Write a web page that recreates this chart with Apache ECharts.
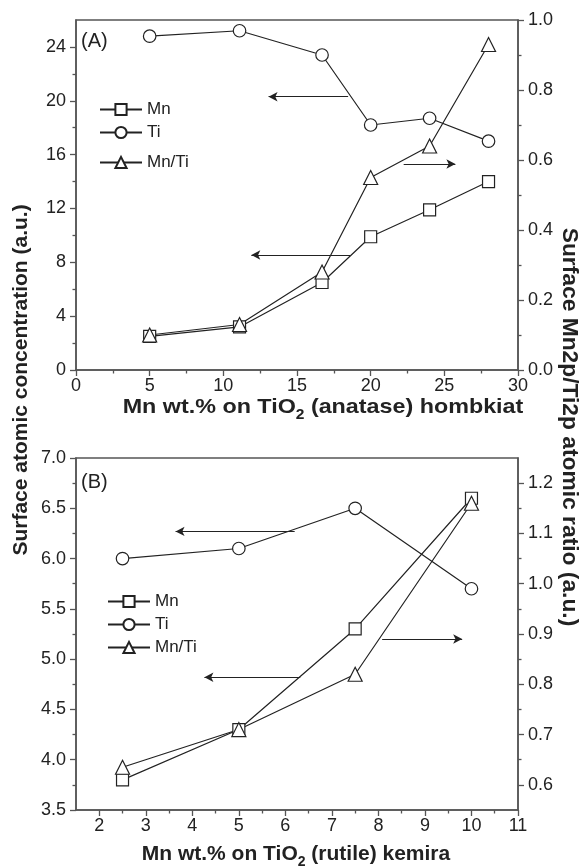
<!DOCTYPE html>
<html><head><meta charset="utf-8">
<script src="https://cdn.jsdelivr.net/npm/echarts@6/dist/echarts.min.js"></script>
<style>html,body{margin:0;padding:0;background:#fff}#c{width:582px;height:867px}</style>
</head><body><div id="c"></div>
<script>
// Panel A: Mn loading on TiO2 anatase (hombkiat)
const loadA = [5, 11.1, 16.7, 20, 24, 28];
const mnA = [2.5, 3.2, 6.5, 9.9, 11.9, 14.0];
const tiA = [24.8, 25.2, 23.4, 18.2, 18.7, 17.0];
const ratioA = [0.10, 0.13, 0.28, 0.55, 0.64, 0.93];
// Panel B: Mn loading on TiO2 rutile (kemira)
const loadB = [2.5, 5, 7.5, 10];
const mnB = [3.8, 4.3, 5.3, 6.6];
const tiB = [6.0, 6.1, 6.5, 5.7];
const ratioB = [0.635, 0.71, 0.82, 1.16];
// Arrows pointing at the axis each curve belongs to: [xFrom, xTo, y on the left axis]
const arrowsA = [[18.47, 13.07, 20.3], [18.6, 11.9, 8.54], [22.24, 25.75, 15.3]];
const arrowsB = [[6.2, 3.64, 6.27], [8.08, 9.8, 5.2], [6.32, 4.26, 4.82]];
// Tick values (major ticks are labelled, minor ones are not)
const xTicksA = [0, 5, 10, 15, 20, 25, 30];
const xMinorA = [2.5, 7.5, 12.5, 17.5, 22.5, 27.5];
const concTicksA = [0, 4, 8, 12, 16, 20, 24];
const concMinorA = [2, 6, 10, 14, 18, 22];
const ratioTicksA = [0.0, 0.2, 0.4, 0.6, 0.8, 1.0];
const ratioMinorA = [0.1, 0.3, 0.5, 0.7, 0.9];
const xTicksB = [2, 3, 4, 5, 6, 7, 8, 9, 10, 11];
const xMinorB = [2.5, 3.5, 4.5, 5.5, 6.5, 7.5, 8.5, 9.5, 10.5];
const concTicksB = [3.5, 4.0, 4.5, 5.0, 5.5, 6.0, 6.5, 7.0];
const concMinorB = [3.75, 4.25, 4.75, 5.25, 5.75, 6.25, 6.75];
const ratioTicksB = [0.6, 0.7, 0.8, 0.9, 1.0, 1.1, 1.2];
const ratioMinorB = [0.65, 0.75, 0.85, 0.95, 1.05, 1.15];

const INK = '#222';
const AXIS = '#555';
const FONT = 'Liberation Sans, Arial, sans-serif';
const LABEL = { color: INK, fontFamily: FONT, fontSize: 18 };

const pairs = (xs, ys) => xs.map((x, i) => [x, ys[i]]);

// Labelled axis with its major ticks
function mainAxis(grid, position, min, max, ticks, digits, margin) {
  return {
    type: 'value', gridIndex: grid, position, min, max,
    axisLine: { show: true, onZero: false, lineStyle: { color: AXIS, width: 1.5 } },
    axisTick: { show: true, inside: false, length: 6, customValues: ticks, lineStyle: { color: AXIS, width: 1.3 } },
    minorTick: { show: false },
    splitLine: { show: false },
    axisLabel: Object.assign({ margin, customValues: ticks, formatter: v => v.toFixed(digits) }, LABEL)
  };
}
// Companion axis on the same side carrying only the short minor ticks
function minorAxis(grid, position, min, max, ticks) {
  return {
    type: 'value', gridIndex: grid, position, min, max,
    axisLine: { show: false, onZero: false },
    axisTick: { show: true, inside: false, length: 3.5, customValues: ticks, lineStyle: { color: AXIS, width: 1.3 } },
    minorTick: { show: false },
    splitLine: { show: false },
    axisLabel: { show: false }
  };
}

function lineSeries(name, xs, ys, xi, yi, symbol, extra) {
  return Object.assign({
    type: 'line', name, xAxisIndex: xi, yAxisIndex: yi,
    data: pairs(xs, ys),
    symbol, symbolSize: symbol === 'triangle' ? 14 : (symbol === 'rect' ? 12 : 12.5),
    showAllSymbol: true,
    lineStyle: { color: INK, width: 1.2 },
    itemStyle: { color: '#fff', borderColor: INK, borderWidth: 1.2 },
    animation: false, z: 3
  }, extra || {});
}

function arrows(list) {
  return {
    silent: true, animation: false,
    symbol: ['none', 'arrow'], symbolSize: [7, 9],
    lineStyle: { color: INK, width: 1.2, type: 'solid' },
    label: { show: false },
    emphasis: { disabled: true },
    data: list.map(a => [{ coord: [a[0], a[2]] }, { coord: [a[1], a[2]] }])
  };
}

function legendItem(name, left, cy) {
  return {
    data: [name], left, top: cy - 7, orient: 'vertical', padding: 0,
    itemWidth: 42, itemHeight: 14, selectedMode: false,
    textStyle: { color: INK, fontFamily: FONT, fontSize: 17 }
  };
}

function xTitle(x, y, stretch, before, after) {
  return { type: 'text', x, y, scaleX: stretch,
    style: { text: '{n|' + before + '}{s|2}{n|' + after + '}', fill: INK, align: 'center', verticalAlign: 'top',
      rich: { n: { fontFamily: FONT, fontWeight: 'bold', fontSize: 21, fill: INK, verticalAlign: 'top' },
              s: { fontFamily: FONT, fontWeight: 'bold', fontSize: 14, fill: INK, verticalAlign: 'top', padding: [11, 0, 0, 0] } } } };
}

const option = {
  backgroundColor: '#fff',
  animation: false,
  grid: [
    { left: 76, top: 20, width: 442, height: 350, show: true, borderColor: AXIS, borderWidth: 1.5 },
    { left: 76, top: 458, width: 442, height: 352, show: true, borderColor: AXIS, borderWidth: 1.5 }
  ],
  xAxis: [
    mainAxis(0, 'bottom', 0, 30, xTicksA, 0, 7),
    mainAxis(1, 'bottom', 1.5, 11, xTicksB, 0, 7),
    minorAxis(0, 'bottom', 0, 30, xMinorA),
    minorAxis(1, 'bottom', 1.5, 11, xMinorB)
  ],
  yAxis: [
    mainAxis(0, 'left', 0, 26, concTicksA, 0, 10),
    mainAxis(0, 'right', 0, 1.0, ratioTicksA, 1, 10),
    mainAxis(1, 'left', 3.5, 7.0, concTicksB, 1, 10),
    mainAxis(1, 'right', 0.55, 1.25, ratioTicksB, 1, 10),
    minorAxis(0, 'left', 0, 26, concMinorA),
    minorAxis(0, 'right', 0, 1.0, ratioMinorA),
    minorAxis(1, 'left', 3.5, 7.0, concMinorB),
    minorAxis(1, 'right', 0.55, 1.25, ratioMinorB)
  ],
  legend: [
    legendItem('Mn', 99, 108), legendItem('Ti', 99, 131), legendItem('Mn/Ti', 99, 161),
    legendItem('Mn', 107, 600), legendItem('Ti', 107, 623), legendItem('Mn/Ti', 107, 646)
  ],
  series: [
    lineSeries('Mn', loadA, mnA, 0, 0, 'rect'),
    lineSeries('Ti', loadA, tiA, 0, 0, 'circle', { markLine: arrows(arrowsA) }),
    lineSeries('Mn/Ti', loadA, ratioA, 0, 1, 'triangle'),
    lineSeries('Mn', loadB, mnB, 1, 2, 'rect'),
    lineSeries('Ti', loadB, tiB, 1, 2, 'circle', { markLine: arrows(arrowsB) }),
    lineSeries('Mn/Ti', loadB, ratioB, 1, 3, 'triangle')
  ],
  graphic: [
    { type: 'text', left: 81, top: 31, style: { text: '(A)', fill: INK, font: '20px ' + FONT } },
    { type: 'text', left: 81, top: 472, style: { text: '(B)', fill: INK, font: '20px ' + FONT } },
    { type: 'text', x: 21, y: 380, rotation: Math.PI / 2,
      style: { text: 'Surface atomic concentration (a.u.)', fill: INK, font: 'bold 21px ' + FONT, align: 'center', verticalAlign: 'middle' } },
    { type: 'text', x: 569, y: 427, rotation: -Math.PI / 2,
      style: { text: 'Surface Mn2p/Ti2p atomic ratio (a.u.)', fill: INK, font: 'bold 22.8px ' + FONT, align: 'center', verticalAlign: 'middle' } },
    xTitle(323, 397, 1.11, 'Mn wt.% on TiO', ' (anatase) hombkiat'),
    xTitle(296, 844, 1.0, 'Mn wt.% on TiO', ' (rutile) kemira')
  ]
};

const chart = echarts.init(document.getElementById('c'), null, { renderer: 'canvas' });
chart.setOption(option);
</script>
</body></html>
